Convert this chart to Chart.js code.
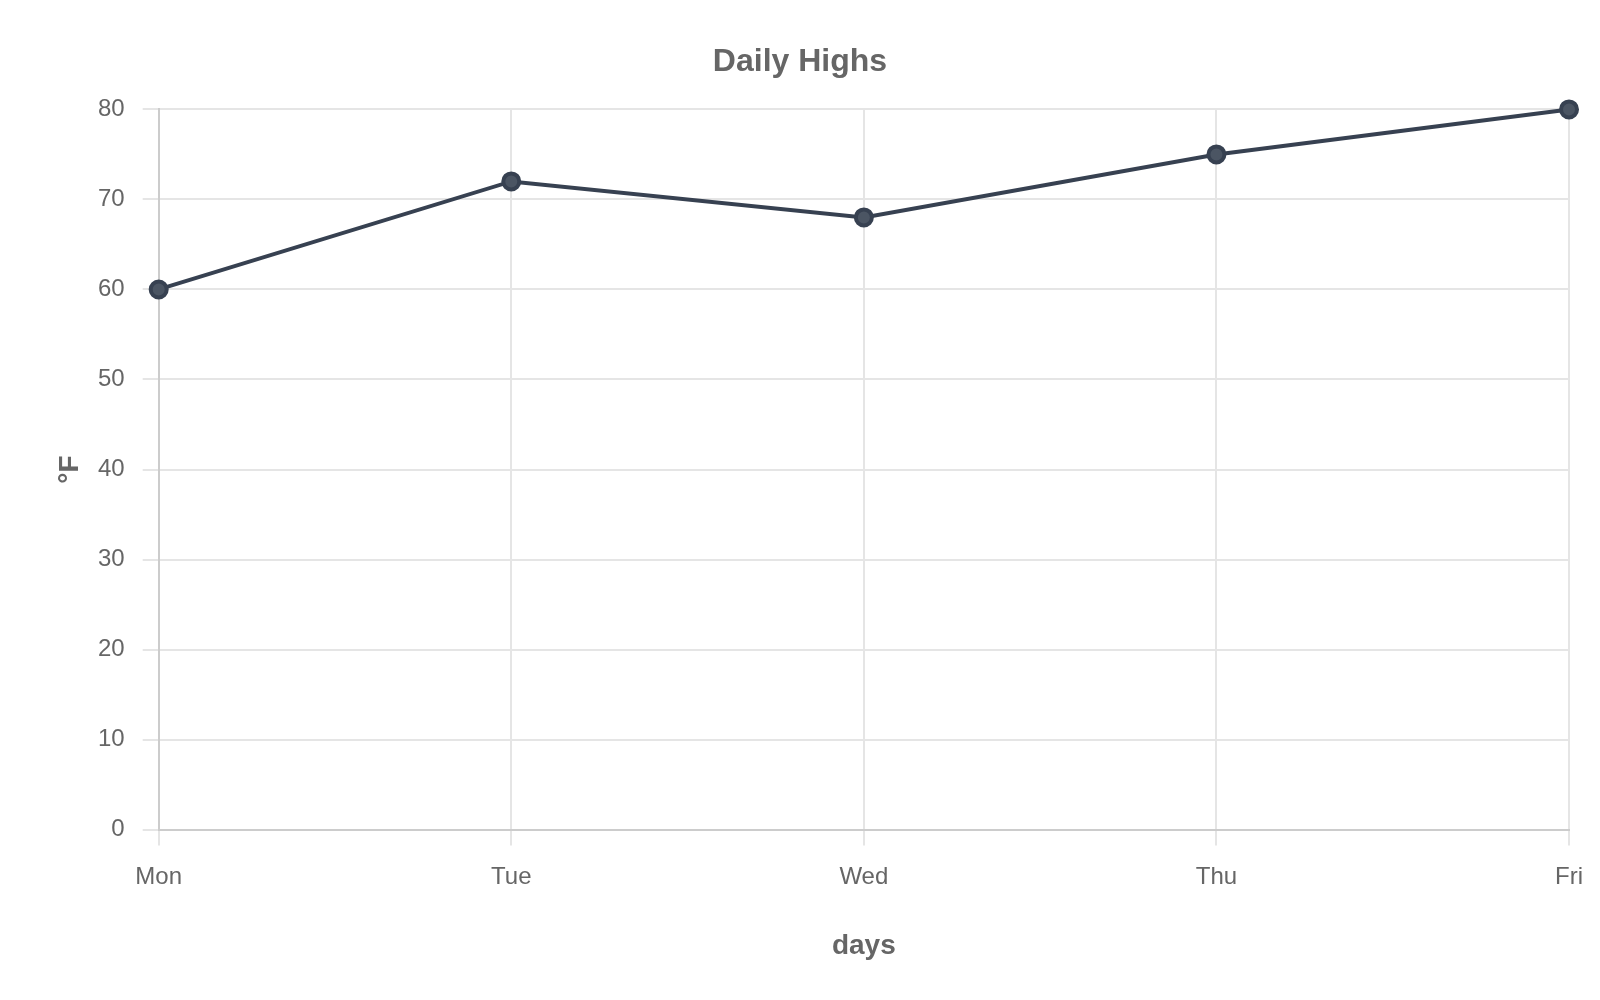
<!DOCTYPE html>
<html>
<head>
<meta charset="utf-8">
<title>Daily Highs</title>
<script src="https://cdn.jsdelivr.net/npm/chart.js@4.4.1/dist/chart.umd.min.js"></script>
<style>
    html, body { margin: 0; padding: 0; background: #fff; }
    .wrap { width: 1600px; height: 1000px; }
</style>
</head>
<body>
<div class="wrap"><canvas id="tempChart"></canvas></div>
<script>
const days = ['Mon', 'Tue', 'Wed', 'Thu', 'Fri'];
const highs = [60, 72, 68, 75, 80];
const yTicks = [0, 10, 20, 30, 40, 50, 60, 70, 80];

Chart.defaults.font.family = '"Liberation Sans", Helvetica, Arial, sans-serif';
Chart.defaults.color = '#666';

const gridColor = '#e5e5e5';
const axisColor = '#cccccc';

const tempChart = new Chart(document.getElementById('tempChart'), {
    type: 'line',
    data: {
        labels: days,
        datasets: [{
            label: 'High',
            data: highs,
            borderColor: '#374151',
            backgroundColor: '#4b5563',
            borderWidth: 4,
            pointRadius: 8,
            pointBorderWidth: 4,
            pointBorderColor: '#374151',
            pointBackgroundColor: '#4b5563',
            tension: 0,
            fill: false,
            clip: false
        }]
    },
    options: {
        responsive: true,
        maintainAspectRatio: false,
        animation: false,
        devicePixelRatio: 1,
        layout: { padding: { top: 21, left: 30, right: 30, bottom: 29 } },
        plugins: {
            legend: { display: false },
            tooltip: { enabled: false },
            title: {
                display: true,
                text: 'Daily Highs',
                font: { size: 32, weight: 'bold' },
                padding: { top: 22, bottom: 28 }
            }
        },
        scales: {
            x: {
                grid: { color: gridColor, lineWidth: 2, tickLength: 16 },
                border: { color: axisColor, width: 2 },
                ticks: { font: { size: 24 }, padding: 17 },
                title: {
                    display: true,
                    text: 'days',
                    font: { size: 28, weight: 'bold' },
                    padding: { top: 21, bottom: 8 }
                }
            },
            y: {
                min: 0,
                max: 80,
                afterBuildTicks: axis => { axis.ticks = yTicks.map(v => ({ value: v })); },
                grid: { color: gridColor, lineWidth: 2, tickLength: 16 },
                border: { color: axisColor, width: 2 },
                ticks: { font: { size: 24 }, padding: 18 },
                title: {
                    display: true,
                    text: '°F',
                    font: { size: 28, weight: 'bold', lineHeight: 1 },
                    padding: { top: 26, bottom: -4 }
                }
            }
        }
    }
});
</script>
</body>
</html>
